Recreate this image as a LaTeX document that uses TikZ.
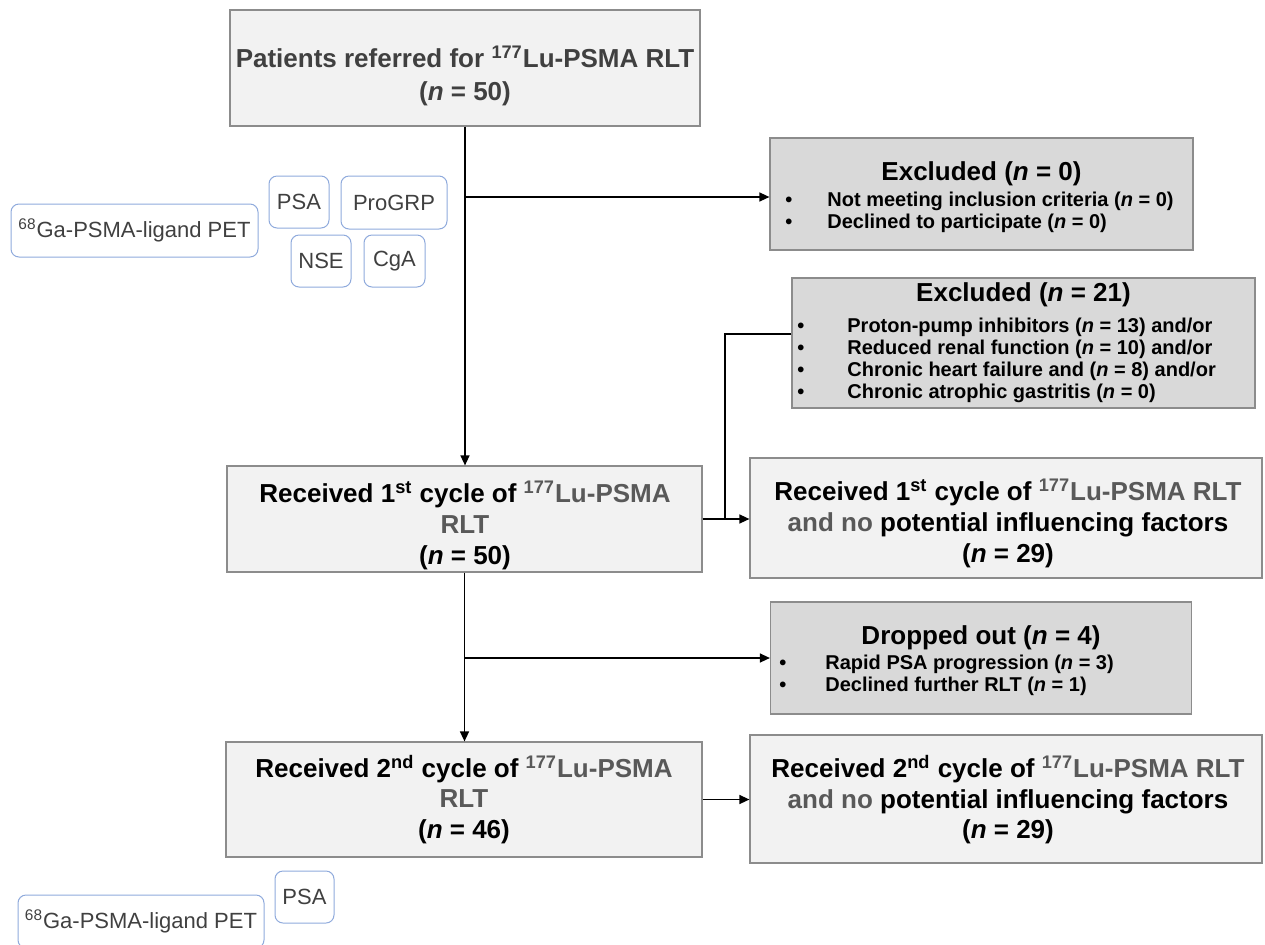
\documentclass[tikz,border=0pt]{standalone}
\usepackage{fontspec}
\setmainfont{Liberation Sans}
\usetikzlibrary{arrows.meta}

\definecolor{boxlight}{HTML}{F2F2F2}
\definecolor{boxdark}{HTML}{D9D9D9}
\definecolor{boxedge}{HTML}{8C8C8C}
\definecolor{textgray}{HTML}{404040}
\definecolor{lugray}{HTML}{595959}
\definecolor{tagedge}{HTML}{8FAADC}

\newcommand{\pxu}{0.5pt}
\newcommand{\bul}[1]{\makebox[#1][l]{\textbullet}}

\begin{document}
\begin{tikzpicture}[x=0.5pt, y=-0.5pt,
    procbox/.style={draw=boxedge, line width=0.6pt, fill=boxlight, inner sep=0pt},
    exclbox/.style={draw=boxedge, line width=0.6pt, fill=boxdark, inner sep=0pt},
    markerbox/.style={draw=tagedge, line width=0.5pt, rounded corners=4pt, inner sep=0pt,
        text=textgray, font=\fontsize{11pt}{13pt}\selectfont},
    linetext/.style={inner sep=0pt, anchor=base, font=\bfseries\fontsize{13pt}{15.5pt}\selectfont},
    itemtext/.style={inner sep=0pt, anchor=base west, font=\bfseries\fontsize{10pt}{12pt}\selectfont},
    flow/.style={line width=0.7pt, -{Triangle[length=5pt,width=4.5pt]}}]
    \useasboundingbox (0,0) rectangle (1265,944);

    % Main flow boxes
    \node[procbox, minimum width=470*\pxu, minimum height=116*\pxu] (referred) at (465,68) {};
    \node[procbox, minimum width=475*\pxu, minimum height=106*\pxu] (cycle1) at (464.5,519) {};
    \node[procbox, minimum width=512*\pxu, minimum height=120*\pxu] (cycle1r) at (1006,518) {};
    \node[procbox, minimum width=476*\pxu, minimum height=115*\pxu] (cycle2) at (464,799.5) {};
    \node[procbox, minimum width=512*\pxu, minimum height=128*\pxu] (cycle2r) at (1006,799) {};

    % Exclusion boxes
    \node[exclbox, minimum width=423*\pxu, minimum height=112*\pxu] (excl0) at (981.5,194) {};
    \node[exclbox, minimum width=463*\pxu, minimum height=130*\pxu] (excl21) at (1023.5,343) {};
    \node[exclbox, minimum width=421*\pxu, minimum height=112*\pxu] (dropout) at (981,658) {};

    % Text of the main flow boxes
    \foreach \y/\txt [count=\k] in {
        67/{Patients referred for \textsuperscript{177}Lu-PSMA RLT},
        100/{(\textit{n} = 50)}}{
        \node[linetext, text=textgray] (referred-\k) at (465,\y) {\txt};
    }
    \foreach \y/\txt [count=\k] in {
        502/{Received 1\textsuperscript{st} cycle of \textcolor{lugray}{\textsuperscript{177}Lu-PSMA}},
        533/{\textcolor{lugray}{RLT}},
        564/{(\textit{n} = 50)}}{
        \node[linetext] (cycle1-\k) at (465,\y) {\txt};
    }
    \foreach \y/\txt [count=\k] in {
        500/{Received 1\textsuperscript{st} cycle of \textcolor{lugray}{\textsuperscript{177}Lu-PSMA RLT}},
        531/{\textcolor{lugray}{and no} potential influencing factors},
        562/{(\textit{n} = 29)}}{
        \node[linetext] (cycle1r-\k) at (1008,\y) {\txt};
    }
    \foreach \y/\txt [count=\k] in {
        777/{Received 2\textsuperscript{nd} cycle of \textcolor{lugray}{\textsuperscript{177}Lu-PSMA}},
        807/{\textcolor{lugray}{RLT}},
        838/{(\textit{n} = 46)}}{
        \node[linetext] (cycle2-\k) at (464,\y) {\txt};
    }
    \foreach \y/\txt [count=\k] in {
        777/{Received 2\textsuperscript{nd} cycle of \textcolor{lugray}{\textsuperscript{177}Lu-PSMA RLT}},
        808/{\textcolor{lugray}{and no} potential influencing factors},
        838/{(\textit{n} = 29)}}{
        \node[linetext] (cycle2r-\k) at (1008,\y) {\txt};
    }

    % Text of the exclusion boxes
    \node[linetext] (excl0-title) at (981.5,180) {Excluded (\textit{n} = 0)};
    \foreach \y/\txt [count=\k] in {
        206/{Not meeting inclusion criteria (\textit{n} = 0)},
        228/{Declined to participate (\textit{n} = 0)}}{
        \node[itemtext] (excl0-\k) at (785,\y) {\bul{21pt}\txt};
    }
    \node[linetext] (excl21-title) at (1023.5,301) {Excluded (\textit{n} = 21)};
    \foreach \y/\txt [count=\k] in {
        332/{Proton-pump inhibitors (\textit{n} = 13) and/or},
        354/{Reduced renal function (\textit{n} = 10) and/or},
        376/{Chronic heart failure and (\textit{n} = 8) and/or},
        398/{Chronic atrophic gastritis (\textit{n} = 0)}}{
        \node[itemtext] (excl21-\k) at (797,\y) {\bul{25pt}\txt};
    }
    \node[linetext] (dropout-title) at (981,644) {Dropped out (\textit{n} = 4)};
    \foreach \y/\txt [count=\k] in {
        669/{Rapid PSA progression (\textit{n} = 3)},
        691/{Declined further RLT (\textit{n} = 1)}}{
        \node[itemtext] (dropout-\k) at (779,\y) {\bul{23pt}\txt};
    }

    % Marker boxes
    \node[markerbox, minimum width=247*\pxu, minimum height=53*\pxu] (pet1) at (134.5,230.5) {\textsuperscript{68}Ga-PSMA-ligand PET};
    \node[markerbox, minimum width=60*\pxu, minimum height=52*\pxu] (psa1) at (299,202) {PSA};
    \node[markerbox, minimum width=106*\pxu, minimum height=53*\pxu] (progrp) at (394,202.5) {ProGRP};
    \node[markerbox, minimum width=60*\pxu, minimum height=52*\pxu] (nse) at (321,261) {NSE};
    \node[markerbox, minimum width=61*\pxu, minimum height=52*\pxu] (cga) at (394.5,261) {CgA};
    \node[markerbox, minimum width=59*\pxu, minimum height=52*\pxu] (psa2) at (304.5,897) {PSA};
    \node[markerbox, minimum width=246*\pxu, minimum height=53*\pxu] (pet2) at (141,921.5) {\textsuperscript{68}Ga-PSMA-ligand PET};

    % Connectors
    \coordinate (split1) at (referred.south |- 0,197);
    \coordinate (split2) at (cycle1.south |- dropout.west);
    \coordinate (join1) at (725,519);
    \draw[flow] (referred.south) -- (referred.south |- cycle1.north);
    \draw[flow] (split1) -- (split1 -| excl0.west);
    \draw[line width=0.7pt] (excl21.west |- 0,334) -| (join1);
    \draw[flow] (cycle1.east) -- (cycle1.east -| cycle1r.west);
    \draw[flow] (cycle1.south) -- (cycle1.south |- cycle2.north);
    \draw[flow] (split2) -- (dropout.west);
    \draw[flow] (cycle2.east) -- (cycle2.east -| cycle2r.west);
\end{tikzpicture}
\end{document}
